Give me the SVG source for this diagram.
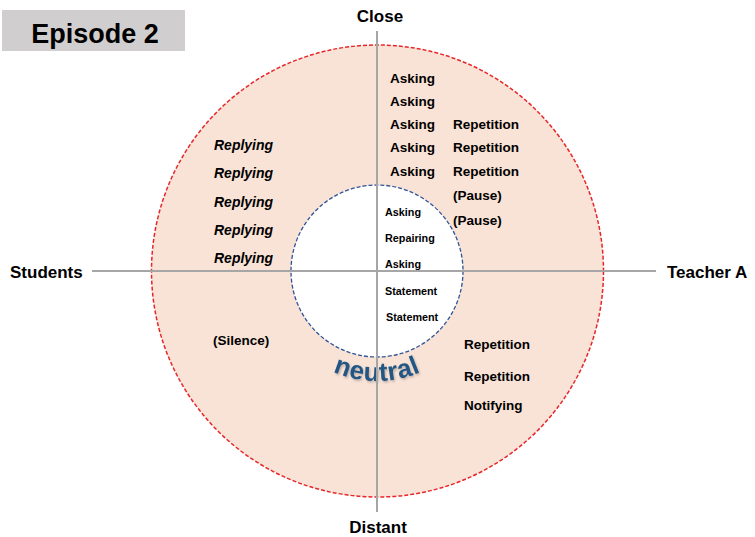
<svg xmlns="http://www.w3.org/2000/svg" width="755" height="537" viewBox="0 0 755 537">
  <style>
    text { font-family: "Liberation Sans", Arial, sans-serif; font-weight: bold; fill: #000; }
    .axis-label { font-size: 17px; }
    .act { font-size: 13.5px; }
    .act-small { font-size: 10.8px; }
    .reply { font-size: 14px; font-style: italic; }
    .axis { stroke: #a6a6a6; stroke-width: 2; fill: none; }
  </style>
  <defs>
    <path id="neutral-arc" d="M 267,271 A 110 110 0 0 0 487,271"/>
    <filter id="soft-shadow" x="-10%" y="-10%" width="120%" height="130%">
      <feDropShadow dx="1" dy="1.5" stdDeviation="0.8" flood-color="#000" flood-opacity="0.25"/>
    </filter>
  </defs>

  <!-- title -->
  <g id="title">
    <rect x="2" y="10" width="183" height="41" fill="#d0cece"/>
    <text x="95" y="43" text-anchor="middle" style="font-size:27px">Episode 2</text>
  </g>

  <!-- rings -->
  <g id="outer-ring">
    <circle cx="377.5" cy="271" r="226" fill="#f9e3d6" stroke="#e8262a" stroke-width="1.5" stroke-dasharray="4 2"/>
  </g>
  <g id="inner-ring">
    <circle cx="377" cy="271" r="86" fill="#ffffff" stroke="#2f5597" stroke-width="1.3" stroke-dasharray="4 2"/>
    <text filter="url(#soft-shadow)" style="font-size:26px; fill:#245684; letter-spacing:0.6px"><textPath href="#neutral-arc" startOffset="50%" text-anchor="middle">neutral</textPath></text>
  </g>

  <!-- axes -->
  <g id="connectors">
    <line class="axis" x1="377" y1="31" x2="377" y2="512"/>
    <line class="axis" x1="92" y1="271" x2="656" y2="271"/>
  </g>

  <!-- axis labels -->
  <g id="close"><text class="axis-label" x="380" y="22" text-anchor="middle">Close</text></g>
  <g id="distant"><text class="axis-label" x="378" y="533" text-anchor="middle">Distant</text></g>
  <g id="students"><text class="axis-label" x="10" y="278">Students</text></g>
  <g id="teacher-a"><text class="axis-label" x="667" y="278">Teacher A</text></g>

  <!-- teacher acts, close side -->
  <g id="teacher-close">
    <text class="act" x="390" y="83">Asking</text>
    <text class="act" x="390" y="106">Asking</text>
    <text class="act" x="390" y="129">Asking</text>
    <text class="act" x="390" y="152">Asking</text>
    <text class="act" x="390" y="176">Asking</text>
    <text class="act" x="453" y="129">Repetition</text>
    <text class="act" x="453" y="152">Repetition</text>
    <text class="act" x="453" y="176">Repetition</text>
    <text class="act" x="453" y="200">(Pause)</text>
    <text class="act" x="453" y="225">(Pause)</text>
  </g>

  <!-- neutral acts -->
  <g id="teacher-neutral">
    <text class="act-small" x="385" y="216">Asking</text>
    <text class="act-small" x="385" y="242">Repairing</text>
    <text class="act-small" x="385" y="268">Asking</text>
    <text class="act-small" x="385" y="295">Statement</text>
    <text class="act-small" x="386" y="321">Statement</text>
  </g>

  <!-- teacher acts, distant side -->
  <g id="teacher-distant">
    <text class="act" x="464" y="349">Repetition</text>
    <text class="act" x="464" y="381">Repetition</text>
    <text class="act" x="464" y="410">Notifying</text>
  </g>

  <!-- student acts -->
  <g id="students-close">
    <text class="reply" x="214" y="150">Replying</text>
    <text class="reply" x="214" y="178">Replying</text>
    <text class="reply" x="214" y="207">Replying</text>
    <text class="reply" x="214" y="235">Replying</text>
    <text class="reply" x="214" y="263">Replying</text>
  </g>
  <g id="students-distant">
    <text class="act" x="213" y="345">(Silence)</text>
  </g>
</svg>
